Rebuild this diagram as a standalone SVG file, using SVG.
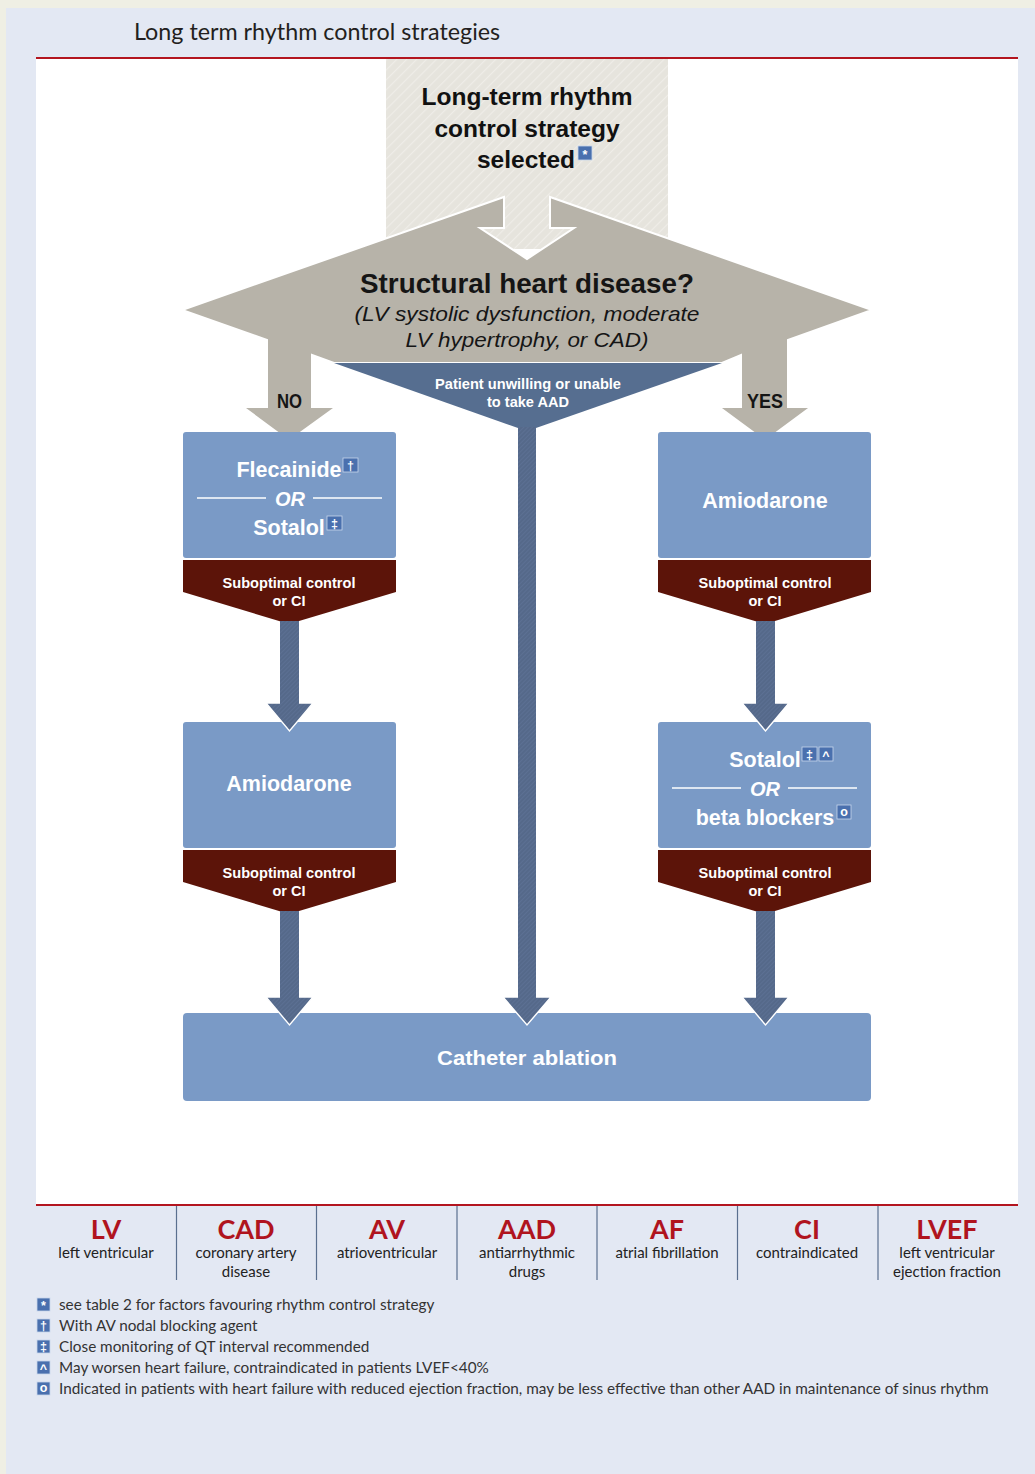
<svg xmlns="http://www.w3.org/2000/svg" width="1035" height="1474" viewBox="0 0 1035 1474">
<defs>
<style>
.hv{font-family:"Liberation Sans",Arial,sans-serif;}
.lt{font-family:Lato,"Open Sans",sans-serif;}
.box{fill:#7a9ac6;}
.red{fill:#5c1409;}
.wt{fill:#ffffff;font-weight:bold;text-anchor:middle;}
.drug{font-size:21.5px;}
.sub{font-size:15.5px;}
.or{font-size:20px;font-style:italic;}
.sep{stroke:#ffffff;stroke-width:1.6;}
.badge{fill:#4a70ae;stroke:#c9d6ec;stroke-width:0.8;}
.bsym{fill:#ffffff;font-family:"Liberation Sans",Arial,sans-serif;font-weight:bold;text-anchor:middle;font-size:12.5px;}
.abbr{font-family:Lato,"Open Sans",sans-serif;font-weight:bold;font-size:27px;fill:#b0141e;text-anchor:middle;}
.desc{font-family:Lato,"Open Sans",sans-serif;font-size:15px;fill:#222;text-anchor:middle;}
.fn{font-family:Lato,"Open Sans",sans-serif;font-size:15.3px;fill:#333;}
.col{stroke:#5a6f8f;stroke-width:1.2;}
.arr{fill:url(#hatchBlue);}
.ahead{fill:none;stroke:#ffffff;stroke-width:1.4;stroke-linejoin:miter;}
</style>
<pattern id="hatchGrey" width="7" height="7" patternUnits="userSpaceOnUse" patternTransform="rotate(45)">
<rect width="7" height="7" fill="#e6e4dd"/>
<line x1="0" y1="0" x2="0" y2="7" stroke="#efede8" stroke-width="2.4"/>
</pattern>
<pattern id="hatchBlue" width="3" height="3" patternUnits="userSpaceOnUse" patternTransform="rotate(45)">
<rect width="3" height="3" fill="#55698a"/>
<line x1="0" y1="0" x2="0" y2="3" stroke="#61759a" stroke-width="1.2"/>
</pattern>
</defs>

<!-- page backgrounds -->
<rect x="0" y="0" width="1035" height="1474" fill="#efefe4"/>
<rect x="6" y="8" width="1029" height="1466" fill="#e3e8f3"/>
<text class="lt" x="134" y="40" font-size="23.3" fill="#231f20">Long term rhythm control strategies</text>
<rect x="36" y="59" width="982" height="1146" fill="#ffffff"/>
<line x1="36" y1="58" x2="1018" y2="58" stroke="#b3151f" stroke-width="2.2"/>
<line x1="36" y1="1205" x2="1018" y2="1205" stroke="#b3151f" stroke-width="2.2"/>

<!-- start node -->
<g id="start">
<rect x="386" y="59" width="282" height="190" fill="url(#hatchGrey)"/>
<text class="hv" x="527" y="105" font-size="24.5" font-weight="bold" fill="#111" text-anchor="middle">Long-term rhythm</text>
<text class="hv" x="527" y="137" font-size="24.5" font-weight="bold" fill="#111" text-anchor="middle">control strategy</text>
<text class="hv" x="526" y="168" font-size="24.5" font-weight="bold" fill="#111" text-anchor="middle">selected</text>
<rect class="badge" x="578" y="146" width="14" height="14"/>
<text class="bsym" x="585" y="159" font-size="14">*</text>
</g>

<!-- decision node -->
<g id="decision">
<path d="M182,310 L504,197 V228 H480 L527,259 L574,228 H550 V197 L872,310 L788,340 V407 H811 L765,441 L719,407 H741 V355 L722,363 H334 L312,355 V407 H336 L289,441 L243,407 H267 V340 Z" fill="#b7b3a9" stroke="#ffffff" stroke-width="2" stroke-linejoin="miter"/>
<text class="hv" x="527" y="293" font-size="27.5" font-weight="bold" fill="#151515" text-anchor="middle" textLength="334" lengthAdjust="spacingAndGlyphs">Structural heart disease?</text>
<text class="hv" x="527" y="321" font-size="21" font-style="italic" fill="#151515" text-anchor="middle" textLength="345" lengthAdjust="spacingAndGlyphs">(LV systolic dysfunction, moderate</text>
<text class="hv" x="527" y="347" font-size="21" font-style="italic" fill="#151515" text-anchor="middle" textLength="243" lengthAdjust="spacingAndGlyphs">LV hypertrophy, or CAD)</text>
<text class="hv" x="289.5" y="408" font-size="21" font-weight="bold" fill="#151515" text-anchor="middle" textLength="25" lengthAdjust="spacingAndGlyphs">NO</text>
<text class="hv" x="765" y="408" font-size="21" font-weight="bold" fill="#151515" text-anchor="middle" textLength="36" lengthAdjust="spacingAndGlyphs">YES</text>
</g>

<!-- unwilling branch -->
<g id="unwilling">
<path d="M334,363 H722 L536,428 H518 Z" fill="#566e90"/>
<text class="hv wt" x="528" y="389" font-size="15.5" textLength="186" lengthAdjust="spacingAndGlyphs">Patient unwilling or unable</text>
<text class="hv wt" x="528" y="407" font-size="15.5" textLength="82" lengthAdjust="spacingAndGlyphs">to take AAD</text>
</g>

<!-- left column box 1 -->
<g id="flec">
<rect class="box" x="183" y="432" width="213" height="126" rx="3"/>
<text class="hv wt drug" x="289" y="477">Flecainide</text>
<rect class="badge" x="343" y="458" width="15" height="14"/>
<text class="bsym" x="350.5" y="470">†</text>
<line class="sep" x1="197" y1="498" x2="266" y2="498"/>
<line class="sep" x1="313" y1="498" x2="382" y2="498"/>
<text class="hv wt or" x="290" y="506">OR</text>
<text class="hv wt drug" x="289" y="535">Sotalol</text>
<rect class="badge" x="327" y="516" width="15" height="14"/>
<text class="bsym" x="334.5" y="528">‡</text>
<path class="red" d="M183,560 H396 V592 L289,624 L183,592 Z"/>
<text class="hv wt sub" x="289" y="588" textLength="133" lengthAdjust="spacingAndGlyphs">Suboptimal control</text>
<text class="hv wt sub" x="289" y="606" textLength="33" lengthAdjust="spacingAndGlyphs">or CI</text>
</g>

<!-- right column box 1 -->
<g id="amio1">
<rect class="box" x="658" y="432" width="213" height="126" rx="3"/>
<text class="hv wt drug" x="765" y="508">Amiodarone</text>
<path class="red" d="M658,560 H871 V592 L765,624 L658,592 Z"/>
<text class="hv wt sub" x="765" y="588" textLength="133" lengthAdjust="spacingAndGlyphs">Suboptimal control</text>
<text class="hv wt sub" x="765" y="606" textLength="33" lengthAdjust="spacingAndGlyphs">or CI</text>
</g>

<!-- left column box 2 -->
<g id="amio2">
<rect class="box" x="183" y="722" width="213" height="126" rx="3"/>
<text class="hv wt drug" x="289" y="791">Amiodarone</text>
<path class="red" d="M183,850 H396 V882 L289,914 L183,882 Z"/>
<text class="hv wt sub" x="289" y="878" textLength="133" lengthAdjust="spacingAndGlyphs">Suboptimal control</text>
<text class="hv wt sub" x="289" y="896" textLength="33" lengthAdjust="spacingAndGlyphs">or CI</text>
</g>

<!-- right column box 2 -->
<g id="sotbeta">
<rect class="box" x="658" y="722" width="213" height="126" rx="3"/>
<text class="hv wt drug" x="765" y="767">Sotalol</text>
<rect class="badge" x="802" y="747" width="15" height="14"/>
<text class="bsym" x="809.5" y="759">‡</text>
<rect class="badge" x="819" y="747" width="14" height="14"/>
<text class="bsym" x="826" y="760">^</text>
<line class="sep" x1="672" y1="788" x2="741" y2="788"/>
<line class="sep" x1="788" y1="788" x2="857" y2="788"/>
<text class="hv wt or" x="765" y="796">OR</text>
<text class="hv wt drug" x="765" y="825">beta blockers</text>
<rect class="badge" x="837" y="805" width="14" height="14"/>
<text class="bsym" x="844" y="816">o</text>
<path class="red" d="M658,850 H871 V882 L765,914 L658,882 Z"/>
<text class="hv wt sub" x="765" y="878" textLength="133" lengthAdjust="spacingAndGlyphs">Suboptimal control</text>
<text class="hv wt sub" x="765" y="896" textLength="33" lengthAdjust="spacingAndGlyphs">or CI</text>
</g>

<!-- ablation -->
<g id="ablation">
<rect class="box" x="183" y="1013" width="688" height="88" rx="4"/>
<text class="hv wt" x="527" y="1065" font-size="21" textLength="180" lengthAdjust="spacingAndGlyphs">Catheter ablation</text>
</g>

<!-- connectors -->
<g id="connectors">
<path class="arr" d="M280,621 H299 V703 H313 L289.5,731 L266,703 H280 Z"/>
<polyline class="ahead" points="280,703 266,703 289.5,731 313,703 299,703"/>
<path class="arr" d="M756,621 H775 V703 H789 L765.5,731 L742,703 H756 Z"/>
<polyline class="ahead" points="756,703 742,703 765.5,731 789,703 775,703"/>
<path class="arr" d="M280,911 H299 V997 H313 L289.5,1025 L266,997 H280 Z"/>
<polyline class="ahead" points="280,997 266,997 289.5,1025 313,997 299,997"/>
<path class="arr" d="M756,911 H775 V997 H789 L765.5,1025 L742,997 H756 Z"/>
<polyline class="ahead" points="756,997 742,997 765.5,1025 789,997 775,997"/>
<path class="arr" d="M518,427 H536 V997 H551 L527,1025 L503,997 H518 Z"/>
<polyline class="ahead" points="518,997 503,997 527,1025 551,997 536,997"/>
</g>

<!-- abbreviations -->
<g id="abbreviations">
<line class="col" x1="176.5" y1="1206" x2="176.5" y2="1280"/>
<line class="col" x1="316.5" y1="1206" x2="316.5" y2="1280"/>
<line class="col" x1="457" y1="1206" x2="457" y2="1280"/>
<line class="col" x1="597" y1="1206" x2="597" y2="1280"/>
<line class="col" x1="737.5" y1="1206" x2="737.5" y2="1280"/>
<line class="col" x1="878" y1="1206" x2="878" y2="1280"/>
<text class="abbr" x="106" y="1239">LV</text>
<text class="desc" x="106" y="1258">left ventricular</text>
<text class="abbr" x="246" y="1239">CAD</text>
<text class="desc" x="246" y="1258">coronary artery</text>
<text class="desc" x="246" y="1277">disease</text>
<text class="abbr" x="387" y="1239">AV</text>
<text class="desc" x="387" y="1258">atrioventricular</text>
<text class="abbr" x="527" y="1239">AAD</text>
<text class="desc" x="527" y="1258">antiarrhythmic</text>
<text class="desc" x="527" y="1277">drugs</text>
<text class="abbr" x="667" y="1239">AF</text>
<text class="desc" x="667" y="1258">atrial fibrillation</text>
<text class="abbr" x="807" y="1239">CI</text>
<text class="desc" x="807" y="1258">contraindicated</text>
<text class="abbr" x="947" y="1239">LVEF</text>
<text class="desc" x="947" y="1258">left ventricular</text>
<text class="desc" x="947" y="1277">ejection fraction</text>
</g>

<!-- footnotes -->
<g id="footnotes">
<rect class="badge" x="37" y="1298" width="13" height="13"/>
<text class="bsym" x="43.5" y="1310" font-size="14">*</text>
<text class="fn" x="59" y="1310">see table 2 for factors favouring rhythm control strategy</text>
<rect class="badge" x="37" y="1319" width="13" height="13"/>
<text class="bsym" x="43.5" y="1330">†</text>
<text class="fn" x="59" y="1331">With AV nodal blocking agent</text>
<rect class="badge" x="37" y="1340" width="13" height="13"/>
<text class="bsym" x="43.5" y="1351">‡</text>
<text class="fn" x="59" y="1352">Close monitoring of QT interval recommended</text>
<rect class="badge" x="37" y="1361" width="13" height="13"/>
<text class="bsym" x="43.5" y="1373">^</text>
<text class="fn" x="59" y="1373">May worsen heart failure, contraindicated in patients LVEF&lt;40%</text>
<rect class="badge" x="37" y="1382" width="13" height="13"/>
<text class="bsym" x="43.5" y="1392">o</text>
<text class="fn" x="59" y="1394">Indicated in patients with heart failure with reduced ejection fraction, may be less effective than other AAD in maintenance of sinus rhythm</text>
</g>
</svg>
